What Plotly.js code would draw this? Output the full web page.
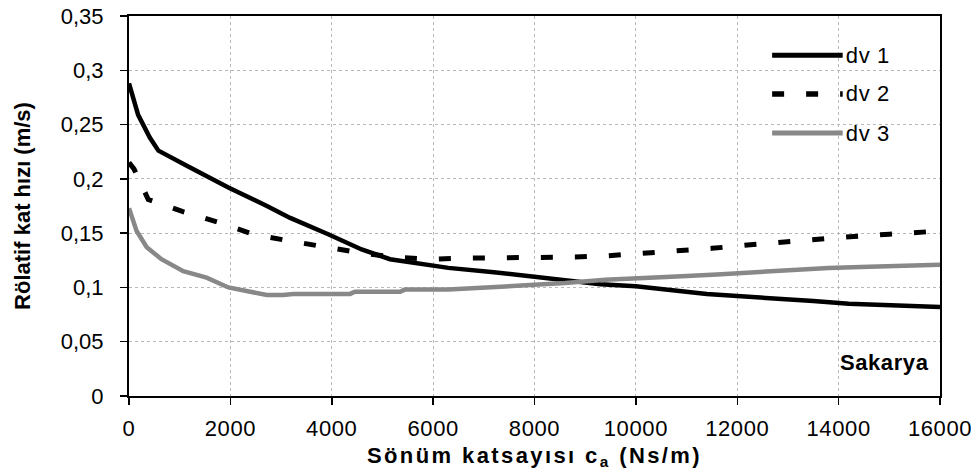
<!DOCTYPE html>
<html>
<head>
<meta charset="utf-8">
<script src="https://cdn.plot.ly/plotly-3.0.1.min.js"></script>
<style>
  html, body { margin: 0; padding: 0; background: #ffffff; }
  #chart { width: 973px; height: 474px; }
  #chart .xtitle { letter-spacing: 2.4px; }
  #chart .xtick text { letter-spacing: 0.6px; }
  #chart .annotation-text { letter-spacing: 0.6px; }
</style>
</head>
<body>
<div id="chart"></div>
<script>
// ---- data ----
const seriesNames = ["dv 1", "dv 2", "dv 3"];

const dv1X = [0, 180, 410, 580, 1140, 1960, 2720, 3180, 3930, 4590, 5150, 5540, 6300, 7200, 7900, 8600, 9300, 10000, 10700, 11400, 12000, 12800, 13500, 14200, 14900, 15600, 16000];
const dv1Y = [0.288, 0.259, 0.238, 0.226, 0.212, 0.192, 0.175, 0.164, 0.149, 0.135, 0.126, 0.123, 0.118, 0.114, 0.110, 0.107, 0.103, 0.101, 0.097, 0.094, 0.092, 0.090, 0.0875, 0.085, 0.084, 0.082, 0.082];

const dv2X = [0, 100, 380, 1050, 1760, 2450, 3140, 3850, 4540, 5220, 5900, 6700, 7400, 8100, 8800, 9400, 10100, 10800, 11500, 12200, 12900, 13600, 14300, 15000, 15700, 16000];
const dv2Y = [0.215, 0.209, 0.181, 0.170, 0.160, 0.149, 0.143, 0.137, 0.132, 0.128, 0.126, 0.127, 0.127, 0.128, 0.128, 0.129, 0.131, 0.133, 0.136, 0.139, 0.142, 0.144, 0.147, 0.149, 0.151, 0.152];

const dv3X = [0, 150, 350, 640, 1070, 1530, 1960, 2390, 2720, 3040, 3240, 4360, 4460, 5350, 5440, 6300, 7100, 7900, 8600, 9400, 10100, 10800, 11600, 12300, 13000, 13800, 14600, 15300, 16000];
const dv3Y = [0.173, 0.152, 0.137, 0.126, 0.115, 0.109, 0.100, 0.096, 0.093, 0.093, 0.094, 0.094, 0.096, 0.096, 0.098, 0.098, 0.100, 0.102, 0.104, 0.107, 0.108, 0.110, 0.112, 0.114, 0.116, 0.118, 0.119, 0.120, 0.121];

const xTickVals = [0, 2000, 4000, 6000, 8000, 10000, 12000, 14000, 16000];
const yTickVals = [0, 0.05, 0.1, 0.15, 0.2, 0.25, 0.3, 0.35];
const xTitle = "Sönüm katsayısı c<sub>a</sub> (Ns/m)";
const yTitle = "Rölatif kat hızı (m/s)";
const stationLabel = "Sakarya";

// ---- styles ----
const FONT = "'Liberation Sans', Arial, sans-serif";
const FS = 22;
const lineStyles = [
  { color: "#000000", width: 4.5, dash: "solid" },
  { color: "#000000", width: 5, dash: "12px,22px" },
  { color: "#888888", width: 4.5, dash: "solid" }
];

const xs = [dv1X, dv2X, dv3X];
const ys = [dv1Y, dv2Y, dv3Y];

const traces = seriesNames.map((name, i) => ({
  type: "scatter",
  mode: "lines",
  name: name,
  x: xs[i],
  y: ys[i],
  line: { color: lineStyles[i].color, width: lineStyles[i].width, dash: lineStyles[i].dash },
  showlegend: false,
  hoverinfo: "skip"
}));

// custom legend (long line samples like the reference)
const legRowsY = [0.897, 0.795, 0.692];
const shapes = [
  { type: "rect", xref: "paper", yref: "paper", x0: 0.785, x1: 0.963, y0: 0.639, y1: 0.958,
    fillcolor: "#ffffff", line: { width: 0 }, layer: "between" }
];
const annotations = [];
seriesNames.forEach((name, i) => {
  shapes.push({
    type: "line", xref: "paper", yref: "paper",
    x0: 0.793, x1: 0.880, y0: legRowsY[i], y1: legRowsY[i],
    line: { color: lineStyles[i].color, width: lineStyles[i].width + 0.5, dash: lineStyles[i].dash }
  });
  annotations.push({
    xref: "paper", yref: "paper", x: 0.883, y: legRowsY[i],
    xanchor: "left", yanchor: "middle", showarrow: false,
    text: name, font: { family: FONT, size: FS, color: "#000000" }
  });
});
annotations.push({
  xref: "paper", yref: "paper", x: 0.987, y: 0.087,
  xanchor: "right", yanchor: "middle", showarrow: false,
  text: stationLabel, font: { family: FONT, size: FS, color: "#000000", weight: "bold" }
});

const layout = {
  width: 973,
  height: 474,
  margin: { l: 129, r: 33, t: 16, b: 78, pad: 0 },
  paper_bgcolor: "#ffffff",
  plot_bgcolor: "#ffffff",
  separators: ",.",
  font: { family: FONT, size: FS, color: "#000000" },
  showlegend: false,
  xaxis: {
    range: [0, 16000],
    tickvals: xTickVals,
    tickformat: "d",
    ticks: "outside",
    ticklen: 7,
    tickwidth: 1.5,
    tickcolor: "#000000",
    ticklabelstandoff: 5,
    showline: true,
    linecolor: "#000000",
    linewidth: 2,
    mirror: true,
    showgrid: true,
    gridcolor: "#b8b8b8",
    griddash: "dot",
    gridwidth: 1,
    zeroline: false,
    tickfont: { family: FONT, size: FS, color: "#000000" },
    title: { text: xTitle, standoff: 7, font: { family: FONT, size: FS, color: "#000000", weight: "bold" } }
  },
  yaxis: {
    range: [0, 0.35],
    tickvals: yTickVals,
    ticks: "outside",
    ticklen: 7,
    tickwidth: 1.5,
    tickcolor: "#000000",
    ticklabelstandoff: 12,
    showline: true,
    linecolor: "#000000",
    linewidth: 2,
    mirror: true,
    showgrid: true,
    gridcolor: "#b8b8b8",
    griddash: "dot",
    gridwidth: 1,
    zeroline: false,
    tickfont: { family: FONT, size: FS, color: "#000000" },
    title: { text: yTitle, standoff: 24, font: { family: FONT, size: FS, color: "#000000", weight: "bold" } }
  },
  shapes: shapes,
  annotations: annotations
};

Plotly.newPlot("chart", traces, layout, { displayModeBar: false, staticPlot: true });
</script>
</body>
</html>
